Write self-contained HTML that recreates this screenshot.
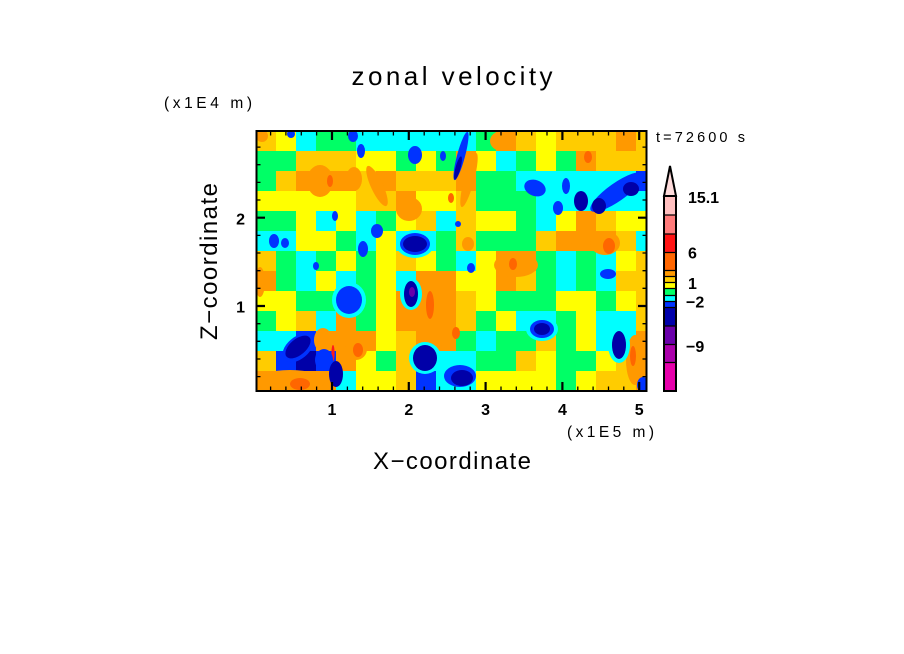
<!DOCTYPE html>
<html><head><meta charset="utf-8"><style>
html,body{margin:0;padding:0;background:#fff;}
svg{display:block;}
text{font-family:"Liberation Sans",sans-serif;fill:#000;}
.Y{fill:#ffff00}.G{fill:#ffcc00}.O{fill:#ff9900}.D{fill:#ff6600}.R{fill:#ff1a1a}
.g{fill:#00ff66}.c{fill:#00ffff}.b{fill:#0033ff}.B{fill:#0000a8}.P{fill:#6600aa}
</style></head><body>
<svg width="904" height="654" viewBox="0 0 904 654" xmlns="http://www.w3.org/2000/svg">
<defs><clipPath id="pc"><rect x="256" y="131" width="391" height="260"/></clipPath></defs>
<rect width="904" height="654" fill="#fff"/>
<g clip-path="url(#pc)">
<!-- row 0 y131: G Y c g g c c c c c b g O G Y G G G O G -->
<rect class="G" x="256" y="131" width="20" height="20"/><rect class="Y" x="276" y="131" width="20" height="20"/><rect class="c" x="296" y="131" width="20" height="20"/><rect class="g" x="316" y="131" width="20" height="20"/><rect class="g" x="336" y="131" width="20" height="20"/><rect class="c" x="356" y="131" width="20" height="20"/><rect class="c" x="376" y="131" width="20" height="20"/><rect class="c" x="396" y="131" width="20" height="20"/><rect class="c" x="416" y="131" width="20" height="20"/><rect class="c" x="436" y="131" width="20" height="20"/><rect class="c" x="456" y="131" width="20" height="20"/><rect class="g" x="476" y="131" width="20" height="20"/><rect class="O" x="496" y="131" width="20" height="20"/><rect class="G" x="516" y="131" width="20" height="20"/><rect class="Y" x="536" y="131" width="20" height="20"/><rect class="G" x="556" y="131" width="20" height="20"/><rect class="G" x="576" y="131" width="20" height="20"/><rect class="G" x="596" y="131" width="20" height="20"/><rect class="O" x="616" y="131" width="20" height="20"/><rect class="G" x="636" y="131" width="20" height="20"/>
<!-- row 1 y151: g g G G G Y Y g Y g O Y c g Y g O G G G -->
<rect class="g" x="256" y="151" width="20" height="20"/><rect class="g" x="276" y="151" width="20" height="20"/><rect class="G" x="296" y="151" width="20" height="20"/><rect class="G" x="316" y="151" width="20" height="20"/><rect class="G" x="336" y="151" width="20" height="20"/><rect class="Y" x="356" y="151" width="20" height="20"/><rect class="Y" x="376" y="151" width="20" height="20"/><rect class="g" x="396" y="151" width="20" height="20"/><rect class="Y" x="416" y="151" width="20" height="20"/><rect class="g" x="436" y="151" width="20" height="20"/><rect class="O" x="456" y="151" width="20" height="20"/><rect class="Y" x="476" y="151" width="20" height="20"/><rect class="c" x="496" y="151" width="20" height="20"/><rect class="g" x="516" y="151" width="20" height="20"/><rect class="Y" x="536" y="151" width="20" height="20"/><rect class="g" x="556" y="151" width="20" height="20"/><rect class="O" x="576" y="151" width="20" height="20"/><rect class="G" x="596" y="151" width="20" height="20"/><rect class="G" x="616" y="151" width="20" height="20"/><rect class="G" x="636" y="151" width="20" height="20"/>
<!-- row 2 y171: g G O O O G O G G G O g g c b c b b b b -->
<rect class="g" x="256" y="171" width="20" height="20"/><rect class="G" x="276" y="171" width="20" height="20"/><rect class="O" x="296" y="171" width="20" height="20"/><rect class="O" x="316" y="171" width="20" height="20"/><rect class="O" x="336" y="171" width="20" height="20"/><rect class="G" x="356" y="171" width="20" height="20"/><rect class="O" x="376" y="171" width="20" height="20"/><rect class="G" x="396" y="171" width="20" height="20"/><rect class="G" x="416" y="171" width="20" height="20"/><rect class="G" x="436" y="171" width="20" height="20"/><rect class="O" x="456" y="171" width="20" height="20"/><rect class="g" x="476" y="171" width="20" height="20"/><rect class="g" x="496" y="171" width="20" height="20"/><rect class="c" x="516" y="171" width="20" height="20"/><rect class="c" x="536" y="171" width="20" height="20"/><rect class="c" x="556" y="171" width="20" height="20"/><rect class="c" x="576" y="171" width="20" height="20"/><rect class="c" x="596" y="171" width="20" height="20"/><rect class="c" x="616" y="171" width="20" height="20"/><rect class="b" x="636" y="171" width="20" height="20"/>
<!-- row 3 y191: Y Y Y Y Y G G O Y Y G g g g c b B b b c -->
<rect class="Y" x="256" y="191" width="20" height="20"/><rect class="Y" x="276" y="191" width="20" height="20"/><rect class="Y" x="296" y="191" width="20" height="20"/><rect class="Y" x="316" y="191" width="20" height="20"/><rect class="Y" x="336" y="191" width="20" height="20"/><rect class="G" x="356" y="191" width="20" height="20"/><rect class="G" x="376" y="191" width="20" height="20"/><rect class="O" x="396" y="191" width="20" height="20"/><rect class="Y" x="416" y="191" width="20" height="20"/><rect class="Y" x="436" y="191" width="20" height="20"/><rect class="G" x="456" y="191" width="20" height="20"/><rect class="g" x="476" y="191" width="20" height="20"/><rect class="g" x="496" y="191" width="20" height="20"/><rect class="g" x="516" y="191" width="20" height="20"/><rect class="c" x="536" y="191" width="20" height="20"/><rect class="c" x="556" y="191" width="20" height="20"/><rect class="c" x="576" y="191" width="20" height="20"/><rect class="c" x="596" y="191" width="20" height="20"/><rect class="c" x="616" y="191" width="20" height="20"/><rect class="c" x="636" y="191" width="20" height="20"/>
<!-- row 4 y211: g g Y c Y c g Y G c G Y Y g c Y O G Y Y -->
<rect class="g" x="256" y="211" width="20" height="20"/><rect class="g" x="276" y="211" width="20" height="20"/><rect class="Y" x="296" y="211" width="20" height="20"/><rect class="c" x="316" y="211" width="20" height="20"/><rect class="Y" x="336" y="211" width="20" height="20"/><rect class="c" x="356" y="211" width="20" height="20"/><rect class="g" x="376" y="211" width="20" height="20"/><rect class="Y" x="396" y="211" width="20" height="20"/><rect class="G" x="416" y="211" width="20" height="20"/><rect class="c" x="436" y="211" width="20" height="20"/><rect class="G" x="456" y="211" width="20" height="20"/><rect class="Y" x="476" y="211" width="20" height="20"/><rect class="Y" x="496" y="211" width="20" height="20"/><rect class="g" x="516" y="211" width="20" height="20"/><rect class="c" x="536" y="211" width="20" height="20"/><rect class="Y" x="556" y="211" width="20" height="20"/><rect class="O" x="576" y="211" width="20" height="20"/><rect class="G" x="596" y="211" width="20" height="20"/><rect class="Y" x="616" y="211" width="20" height="20"/><rect class="Y" x="636" y="211" width="20" height="20"/>
<!-- row 5 y231: c c Y Y g c Y c c g G g g g G O O O G c -->
<rect class="c" x="256" y="231" width="20" height="20"/><rect class="c" x="276" y="231" width="20" height="20"/><rect class="Y" x="296" y="231" width="20" height="20"/><rect class="Y" x="316" y="231" width="20" height="20"/><rect class="g" x="336" y="231" width="20" height="20"/><rect class="c" x="356" y="231" width="20" height="20"/><rect class="Y" x="376" y="231" width="20" height="20"/><rect class="c" x="396" y="231" width="20" height="20"/><rect class="c" x="416" y="231" width="20" height="20"/><rect class="g" x="436" y="231" width="20" height="20"/><rect class="G" x="456" y="231" width="20" height="20"/><rect class="g" x="476" y="231" width="20" height="20"/><rect class="g" x="496" y="231" width="20" height="20"/><rect class="g" x="516" y="231" width="20" height="20"/><rect class="G" x="536" y="231" width="20" height="20"/><rect class="O" x="556" y="231" width="20" height="20"/><rect class="O" x="576" y="231" width="20" height="20"/><rect class="O" x="596" y="231" width="20" height="20"/><rect class="G" x="616" y="231" width="20" height="20"/><rect class="c" x="636" y="231" width="20" height="20"/>
<!-- row 6 y251: G g c g Y g Y G Y g c Y O O g c g c Y G -->
<rect class="G" x="256" y="251" width="20" height="20"/><rect class="g" x="276" y="251" width="20" height="20"/><rect class="c" x="296" y="251" width="20" height="20"/><rect class="g" x="316" y="251" width="20" height="20"/><rect class="Y" x="336" y="251" width="20" height="20"/><rect class="g" x="356" y="251" width="20" height="20"/><rect class="Y" x="376" y="251" width="20" height="20"/><rect class="G" x="396" y="251" width="20" height="20"/><rect class="Y" x="416" y="251" width="20" height="20"/><rect class="g" x="436" y="251" width="20" height="20"/><rect class="c" x="456" y="251" width="20" height="20"/><rect class="Y" x="476" y="251" width="20" height="20"/><rect class="O" x="496" y="251" width="20" height="20"/><rect class="O" x="516" y="251" width="20" height="20"/><rect class="g" x="536" y="251" width="20" height="20"/><rect class="c" x="556" y="251" width="20" height="20"/><rect class="g" x="576" y="251" width="20" height="20"/><rect class="c" x="596" y="251" width="20" height="20"/><rect class="Y" x="616" y="251" width="20" height="20"/><rect class="G" x="636" y="251" width="20" height="20"/>
<!-- row 7 y271: O g c Y c g Y c O O Y Y O G g c g c G G -->
<rect class="O" x="256" y="271" width="20" height="20"/><rect class="g" x="276" y="271" width="20" height="20"/><rect class="c" x="296" y="271" width="20" height="20"/><rect class="Y" x="316" y="271" width="20" height="20"/><rect class="c" x="336" y="271" width="20" height="20"/><rect class="g" x="356" y="271" width="20" height="20"/><rect class="Y" x="376" y="271" width="20" height="20"/><rect class="c" x="396" y="271" width="20" height="20"/><rect class="O" x="416" y="271" width="20" height="20"/><rect class="O" x="436" y="271" width="20" height="20"/><rect class="Y" x="456" y="271" width="20" height="20"/><rect class="Y" x="476" y="271" width="20" height="20"/><rect class="O" x="496" y="271" width="20" height="20"/><rect class="G" x="516" y="271" width="20" height="20"/><rect class="g" x="536" y="271" width="20" height="20"/><rect class="c" x="556" y="271" width="20" height="20"/><rect class="g" x="576" y="271" width="20" height="20"/><rect class="c" x="596" y="271" width="20" height="20"/><rect class="G" x="616" y="271" width="20" height="20"/><rect class="G" x="636" y="271" width="20" height="20"/>
<!-- row 8 y291: Y Y g g c g Y O O O G Y g g g Y Y g Y G -->
<rect class="Y" x="256" y="291" width="20" height="20"/><rect class="Y" x="276" y="291" width="20" height="20"/><rect class="g" x="296" y="291" width="20" height="20"/><rect class="g" x="316" y="291" width="20" height="20"/><rect class="c" x="336" y="291" width="20" height="20"/><rect class="g" x="356" y="291" width="20" height="20"/><rect class="Y" x="376" y="291" width="20" height="20"/><rect class="O" x="396" y="291" width="20" height="20"/><rect class="O" x="416" y="291" width="20" height="20"/><rect class="O" x="436" y="291" width="20" height="20"/><rect class="G" x="456" y="291" width="20" height="20"/><rect class="Y" x="476" y="291" width="20" height="20"/><rect class="g" x="496" y="291" width="20" height="20"/><rect class="g" x="516" y="291" width="20" height="20"/><rect class="g" x="536" y="291" width="20" height="20"/><rect class="Y" x="556" y="291" width="20" height="20"/><rect class="Y" x="576" y="291" width="20" height="20"/><rect class="g" x="596" y="291" width="20" height="20"/><rect class="Y" x="616" y="291" width="20" height="20"/><rect class="G" x="636" y="291" width="20" height="20"/>
<!-- row 9 y311: g Y G c O g Y O O O G g Y c c g Y c c G -->
<rect class="g" x="256" y="311" width="20" height="20"/><rect class="Y" x="276" y="311" width="20" height="20"/><rect class="G" x="296" y="311" width="20" height="20"/><rect class="c" x="316" y="311" width="20" height="20"/><rect class="O" x="336" y="311" width="20" height="20"/><rect class="g" x="356" y="311" width="20" height="20"/><rect class="Y" x="376" y="311" width="20" height="20"/><rect class="O" x="396" y="311" width="20" height="20"/><rect class="O" x="416" y="311" width="20" height="20"/><rect class="O" x="436" y="311" width="20" height="20"/><rect class="G" x="456" y="311" width="20" height="20"/><rect class="g" x="476" y="311" width="20" height="20"/><rect class="Y" x="496" y="311" width="20" height="20"/><rect class="c" x="516" y="311" width="20" height="20"/><rect class="c" x="536" y="311" width="20" height="20"/><rect class="g" x="556" y="311" width="20" height="20"/><rect class="Y" x="576" y="311" width="20" height="20"/><rect class="c" x="596" y="311" width="20" height="20"/><rect class="c" x="616" y="311" width="20" height="20"/><rect class="G" x="636" y="311" width="20" height="20"/>
<!-- row 10 y331: c c b O O O Y G O O g c g g G g Y c c O -->
<rect class="c" x="256" y="331" width="20" height="20"/><rect class="c" x="276" y="331" width="20" height="20"/><rect class="b" x="296" y="331" width="20" height="20"/><rect class="O" x="316" y="331" width="20" height="20"/><rect class="O" x="336" y="331" width="20" height="20"/><rect class="O" x="356" y="331" width="20" height="20"/><rect class="Y" x="376" y="331" width="20" height="20"/><rect class="G" x="396" y="331" width="20" height="20"/><rect class="O" x="416" y="331" width="20" height="20"/><rect class="O" x="436" y="331" width="20" height="20"/><rect class="g" x="456" y="331" width="20" height="20"/><rect class="c" x="476" y="331" width="20" height="20"/><rect class="g" x="496" y="331" width="20" height="20"/><rect class="g" x="516" y="331" width="20" height="20"/><rect class="G" x="536" y="331" width="20" height="20"/><rect class="g" x="556" y="331" width="20" height="20"/><rect class="Y" x="576" y="331" width="20" height="20"/><rect class="c" x="596" y="331" width="20" height="20"/><rect class="c" x="616" y="331" width="20" height="20"/><rect class="O" x="636" y="331" width="20" height="20"/>
<!-- row 11 y351: G b B b O Y g G c c c g g G Y g g Y G O -->
<rect class="G" x="256" y="351" width="20" height="20"/><rect class="b" x="276" y="351" width="20" height="20"/><rect class="B" x="296" y="351" width="20" height="20"/><rect class="b" x="316" y="351" width="20" height="20"/><rect class="O" x="336" y="351" width="20" height="20"/><rect class="Y" x="356" y="351" width="20" height="20"/><rect class="g" x="376" y="351" width="20" height="20"/><rect class="G" x="396" y="351" width="20" height="20"/><rect class="c" x="416" y="351" width="20" height="20"/><rect class="c" x="436" y="351" width="20" height="20"/><rect class="c" x="456" y="351" width="20" height="20"/><rect class="g" x="476" y="351" width="20" height="20"/><rect class="g" x="496" y="351" width="20" height="20"/><rect class="G" x="516" y="351" width="20" height="20"/><rect class="Y" x="536" y="351" width="20" height="20"/><rect class="g" x="556" y="351" width="20" height="20"/><rect class="g" x="576" y="351" width="20" height="20"/><rect class="Y" x="596" y="351" width="20" height="20"/><rect class="G" x="616" y="351" width="20" height="20"/><rect class="O" x="636" y="351" width="20" height="20"/>
<!-- row 12 y371: O O O O c Y Y G b b b Y Y Y Y g Y G G O -->
<rect class="O" x="256" y="371" width="20" height="20"/><rect class="O" x="276" y="371" width="20" height="20"/><rect class="O" x="296" y="371" width="20" height="20"/><rect class="O" x="316" y="371" width="20" height="20"/><rect class="c" x="336" y="371" width="20" height="20"/><rect class="Y" x="356" y="371" width="20" height="20"/><rect class="Y" x="376" y="371" width="20" height="20"/><rect class="G" x="396" y="371" width="20" height="20"/><rect class="b" x="416" y="371" width="20" height="20"/><rect class="c" x="436" y="371" width="20" height="20"/><rect class="c" x="456" y="371" width="20" height="20"/><rect class="Y" x="476" y="371" width="20" height="20"/><rect class="Y" x="496" y="371" width="20" height="20"/><rect class="Y" x="516" y="371" width="20" height="20"/><rect class="Y" x="536" y="371" width="20" height="20"/><rect class="g" x="556" y="371" width="20" height="20"/><rect class="Y" x="576" y="371" width="20" height="20"/><rect class="G" x="596" y="371" width="20" height="20"/><rect class="G" x="616" y="371" width="20" height="20"/><rect class="O" x="636" y="371" width="20" height="20"/>

<!-- orange overlays -->
<ellipse class="O" cx="262" cy="136" rx="6" ry="6"/>
<ellipse class="O" cx="320" cy="181" rx="13" ry="16"/>
<ellipse class="D" cx="330" cy="181" rx="3" ry="6"/>
<ellipse class="O" cx="354" cy="179" rx="8" ry="12"/>
<ellipse class="O" cx="377" cy="186" rx="6" ry="22" transform="rotate(-25 377 186)"/>
<ellipse class="O" cx="409" cy="209" rx="13" ry="12"/>
<ellipse class="O" cx="469" cy="180" rx="5" ry="28" transform="rotate(15 469 180)"/>
<ellipse class="D" cx="451" cy="198" rx="3" ry="5"/>
<ellipse class="O" cx="502" cy="141" rx="12" ry="10"/>
<ellipse class="D" cx="588" cy="157" rx="4" ry="6"/>
<ellipse class="O" cx="623" cy="144" rx="7" ry="7"/>
<ellipse class="O" cx="566" cy="238" rx="10" ry="7"/>
<ellipse class="O" cx="605" cy="243" rx="15" ry="12"/>
<ellipse class="D" cx="609" cy="246" rx="6" ry="8"/>
<ellipse class="O" cx="516" cy="265" rx="22" ry="12"/>
<ellipse class="D" cx="513" cy="264" rx="4" ry="6"/>
<ellipse class="O" cx="468" cy="244" rx="6" ry="7"/>
<ellipse class="O" cx="436" cy="321" rx="16" ry="26"/>
<ellipse class="D" cx="430" cy="305" rx="4" ry="14"/>
<ellipse class="D" cx="456" cy="333" rx="4" ry="6"/>
<ellipse class="O" cx="356" cy="349" rx="11" ry="11"/>
<ellipse class="D" cx="358" cy="350" rx="5" ry="7"/>
<ellipse class="O" cx="323" cy="340" rx="9" ry="12"/>
<ellipse class="R" cx="333" cy="353" rx="1.6" ry="8"/>
<ellipse class="O" cx="290" cy="381" rx="35" ry="11"/>
<ellipse class="D" cx="300" cy="384" rx="10" ry="6"/>
<ellipse class="O" cx="635" cy="360" rx="9" ry="25"/>
<ellipse class="D" cx="633" cy="356" rx="3" ry="10"/>
<ellipse class="O" cx="260" cy="282" rx="5" ry="15"/>
<!-- cyan halos -->
<ellipse class="c" cx="349" cy="300" rx="17" ry="18"/>
<ellipse class="c" cx="542" cy="329" rx="16" ry="12"/>
<ellipse class="c" cx="619" cy="345" rx="11" ry="18"/>
<ellipse class="c" cx="415" cy="244" rx="19" ry="14"/>
<ellipse class="c" cx="411" cy="294" rx="11" ry="16"/>
<ellipse class="c" cx="425" cy="358" rx="16" ry="16"/>
<!-- blue overlays -->
<ellipse class="b" cx="461" cy="156" rx="4" ry="25" transform="rotate(15 461 156)"/>
<ellipse class="B" cx="458" cy="168" rx="2.5" ry="12" transform="rotate(15 458 168)"/>
<ellipse class="b" cx="415" cy="155" rx="7" ry="9"/>
<ellipse class="b" cx="361" cy="151" rx="4" ry="7"/>
<ellipse class="b" cx="353" cy="136" rx="5" ry="6"/>
<ellipse class="b" cx="291" cy="134" rx="4" ry="4"/>
<ellipse class="b" cx="443" cy="156" rx="3" ry="5"/>
<ellipse class="b" cx="617" cy="192" rx="32" ry="9" transform="rotate(-35 617 192)"/>
<ellipse class="B" cx="599" cy="206" rx="7" ry="8"/>
<ellipse class="B" cx="631" cy="189" rx="8" ry="7"/>
<ellipse class="b" cx="535" cy="188" rx="11" ry="8" transform="rotate(20 535 188)"/>
<ellipse class="b" cx="558" cy="208" rx="5" ry="7"/>
<ellipse class="b" cx="566" cy="186" rx="4" ry="8"/>
<ellipse class="B" cx="581" cy="201" rx="7" ry="10"/>
<ellipse class="b" cx="377" cy="231" rx="6" ry="7"/>
<ellipse class="b" cx="335" cy="216" rx="3" ry="5"/>
<ellipse class="b" cx="274" cy="241" rx="5" ry="7"/>
<ellipse class="b" cx="285" cy="243" rx="4" ry="5"/>
<ellipse class="b" cx="363" cy="249" rx="5" ry="8"/>
<ellipse class="b" cx="415" cy="244" rx="15" ry="11"/>
<ellipse class="B" cx="415" cy="244" rx="12" ry="8"/>
<ellipse class="b" cx="458" cy="224" rx="3" ry="3"/>
<ellipse class="b" cx="471" cy="268" rx="4" ry="5"/>
<ellipse class="b" cx="608" cy="274" rx="8" ry="5"/>
<ellipse class="b" cx="316" cy="266" rx="3" ry="4"/>
<ellipse class="b" cx="349" cy="300" rx="13" ry="14"/>
<ellipse class="B" cx="411" cy="294" rx="7" ry="13"/>
<ellipse class="P" cx="412" cy="292" rx="3" ry="5"/>
<ellipse class="b" cx="298" cy="348" rx="18" ry="11" transform="rotate(-40 298 348)"/>
<ellipse class="B" cx="298" cy="347" rx="15" ry="8" transform="rotate(-40 298 347)"/>
<ellipse class="b" cx="324" cy="360" rx="9" ry="11"/>
<ellipse class="B" cx="336" cy="374" rx="7" ry="13"/>
<ellipse class="B" cx="425" cy="358" rx="12" ry="13"/>
<ellipse class="b" cx="460" cy="376" rx="16" ry="11"/>
<ellipse class="B" cx="462" cy="378" rx="11" ry="8"/>
<ellipse class="b" cx="542" cy="329" rx="12" ry="9"/>
<ellipse class="B" cx="542" cy="329" rx="8" ry="6"/>
<ellipse class="B" cx="619" cy="345" rx="7" ry="14"/>
<ellipse class="b" cx="643" cy="385" rx="6" ry="8"/>
</g>
<!-- plot frame -->
<rect x="256.5" y="131" width="390" height="260" fill="none" stroke="#000" stroke-width="2"/>
<path fill="none" stroke="#000" stroke-width="1.3" d="
M270.6 391v-4.5M285.9 391v-4.5M301.3 391v-4.5M316.6 391v-4.5M347.4 391v-4.5M362.7 391v-4.5M378.1 391v-4.5M393.4 391v-4.5M424.2 391v-4.5M439.5 391v-4.5M454.9 391v-4.5M470.2 391v-4.5M501 391v-4.5M516.3 391v-4.5M531.7 391v-4.5M547 391v-4.5M577.8 391v-4.5M593.1 391v-4.5M608.5 391v-4.5M623.8 391v-4.5
M270.6 131v4.5M285.9 131v4.5M301.3 131v4.5M316.6 131v4.5M347.4 131v4.5M362.7 131v4.5M378.1 131v4.5M393.4 131v4.5M424.2 131v4.5M439.5 131v4.5M454.9 131v4.5M470.2 131v4.5M501 131v4.5M516.3 131v4.5M531.7 131v4.5M547 131v4.5M577.8 131v4.5M593.1 131v4.5M608.5 131v4.5M623.8 131v4.5
M256 376.6h4.5M256 359h4.5M256 341.3h4.5M256 323.7h4.5M256 288.3h4.5M256 270.7h4.5M256 253h4.5M256 235.4h4.5M256 200h4.5M256 182.4h4.5M256 164.7h4.5M256 147.1h4.5
M647 376.6h-4.5M647 359h-4.5M647 341.3h-4.5M647 323.7h-4.5M647 288.3h-4.5M647 270.7h-4.5M647 253h-4.5M647 235.4h-4.5M647 200h-4.5M647 182.4h-4.5M647 164.7h-4.5M647 147.1h-4.5"/>
<path fill="none" stroke="#000" stroke-width="2.2" d="
M332 391v-9M408.8 391v-9M485.6 391v-9M562.4 391v-9M639.2 391v-9
M332 131v9M408.8 131v9M485.6 131v9M562.4 131v9M639.2 131v9
M256 306h9M256 217.7h9M647 306h-9M647 217.7h-9"/>

<!-- colorbar -->
<polygon points="670,166 664,196 676,196" fill="#ffdcdc" stroke="#000" stroke-width="2" stroke-linejoin="miter"/>
<rect x="664" y="196" width="12" height="19" fill="#ffbfbf"/>
<rect x="664" y="215" width="12" height="19" fill="#ff7b7b"/>
<rect x="664" y="234" width="12" height="18.5" fill="#ff1414"/>
<rect x="664" y="252.5" width="12" height="18" fill="#ff6600"/>
<rect x="664" y="270.5" width="12" height="6" fill="#ff9900"/>
<rect x="664" y="276.5" width="12" height="6" fill="#ffcc00"/>
<rect x="664" y="282.5" width="12" height="6" fill="#ffff00"/>
<rect x="664" y="288.5" width="12" height="7" fill="#00ff66"/>
<rect x="664" y="295.5" width="12" height="6" fill="#00ffff"/>
<rect x="664" y="301.5" width="12" height="6" fill="#0033ff"/>
<rect x="664" y="307.5" width="12" height="18.5" fill="#0000aa"/>
<rect x="664" y="326" width="12" height="18.5" fill="#6a00aa"/>
<rect x="664" y="344.5" width="12" height="18" fill="#aa00aa"/>
<rect x="664" y="362.5" width="12" height="28.5" fill="#e600aa"/>
<path fill="none" stroke="#000" stroke-width="1.3" d="M664 215h12M664 234h12M664 252.5h12M664 270.5h12M664 276.5h12M664 282.5h12M664 288.5h12M664 295.5h12M664 301.5h12M664 307.5h12M664 326h12M664 344.5h12M664 362.5h12"/>
<rect x="664" y="196" width="12" height="195" fill="none" stroke="#000" stroke-width="2"/>

<!-- texts -->
<text x="452" y="85" font-size="26" text-anchor="middle" textLength="201" lengthAdjust="spacing">zonal velocity</text>
<text x="164" y="108" font-size="15.5" textLength="88" lengthAdjust="spacing">(x1E4 m)</text>
<text x="656" y="142" font-size="14.5" textLength="89" lengthAdjust="spacing">t=72600 s</text>
<text x="688" y="203" font-size="16" font-weight="bold" textLength="31" lengthAdjust="spacing">15.1</text>
<text x="688" y="258.5" font-size="16" font-weight="bold">6</text>
<text x="688" y="289" font-size="16" font-weight="bold">1</text>
<text x="686" y="307.5" font-size="16" font-weight="bold">−2</text>
<text x="686" y="352" font-size="16" font-weight="bold">−9</text>
<text x="245" y="224.5" font-size="16" font-weight="bold" text-anchor="end">2</text>
<text x="245" y="312.5" font-size="16" font-weight="bold" text-anchor="end">1</text>
<text x="332" y="415" font-size="16" font-weight="bold" text-anchor="middle">1</text>
<text x="408.8" y="415" font-size="16" font-weight="bold" text-anchor="middle">2</text>
<text x="485.6" y="415" font-size="16" font-weight="bold" text-anchor="middle">3</text>
<text x="562.4" y="415" font-size="16" font-weight="bold" text-anchor="middle">4</text>
<text x="639.2" y="415" font-size="16" font-weight="bold" text-anchor="middle">5</text>
<text x="567" y="437" font-size="15.5" textLength="87" lengthAdjust="spacing">(x1E5 m)</text>
<text x="373" y="469" font-size="24" textLength="158" lengthAdjust="spacing">X−coordinate</text>
<text transform="translate(217 340) rotate(-90)" font-size="24" textLength="157" lengthAdjust="spacing">Z−coordinate</text>
</svg>
</body></html>
